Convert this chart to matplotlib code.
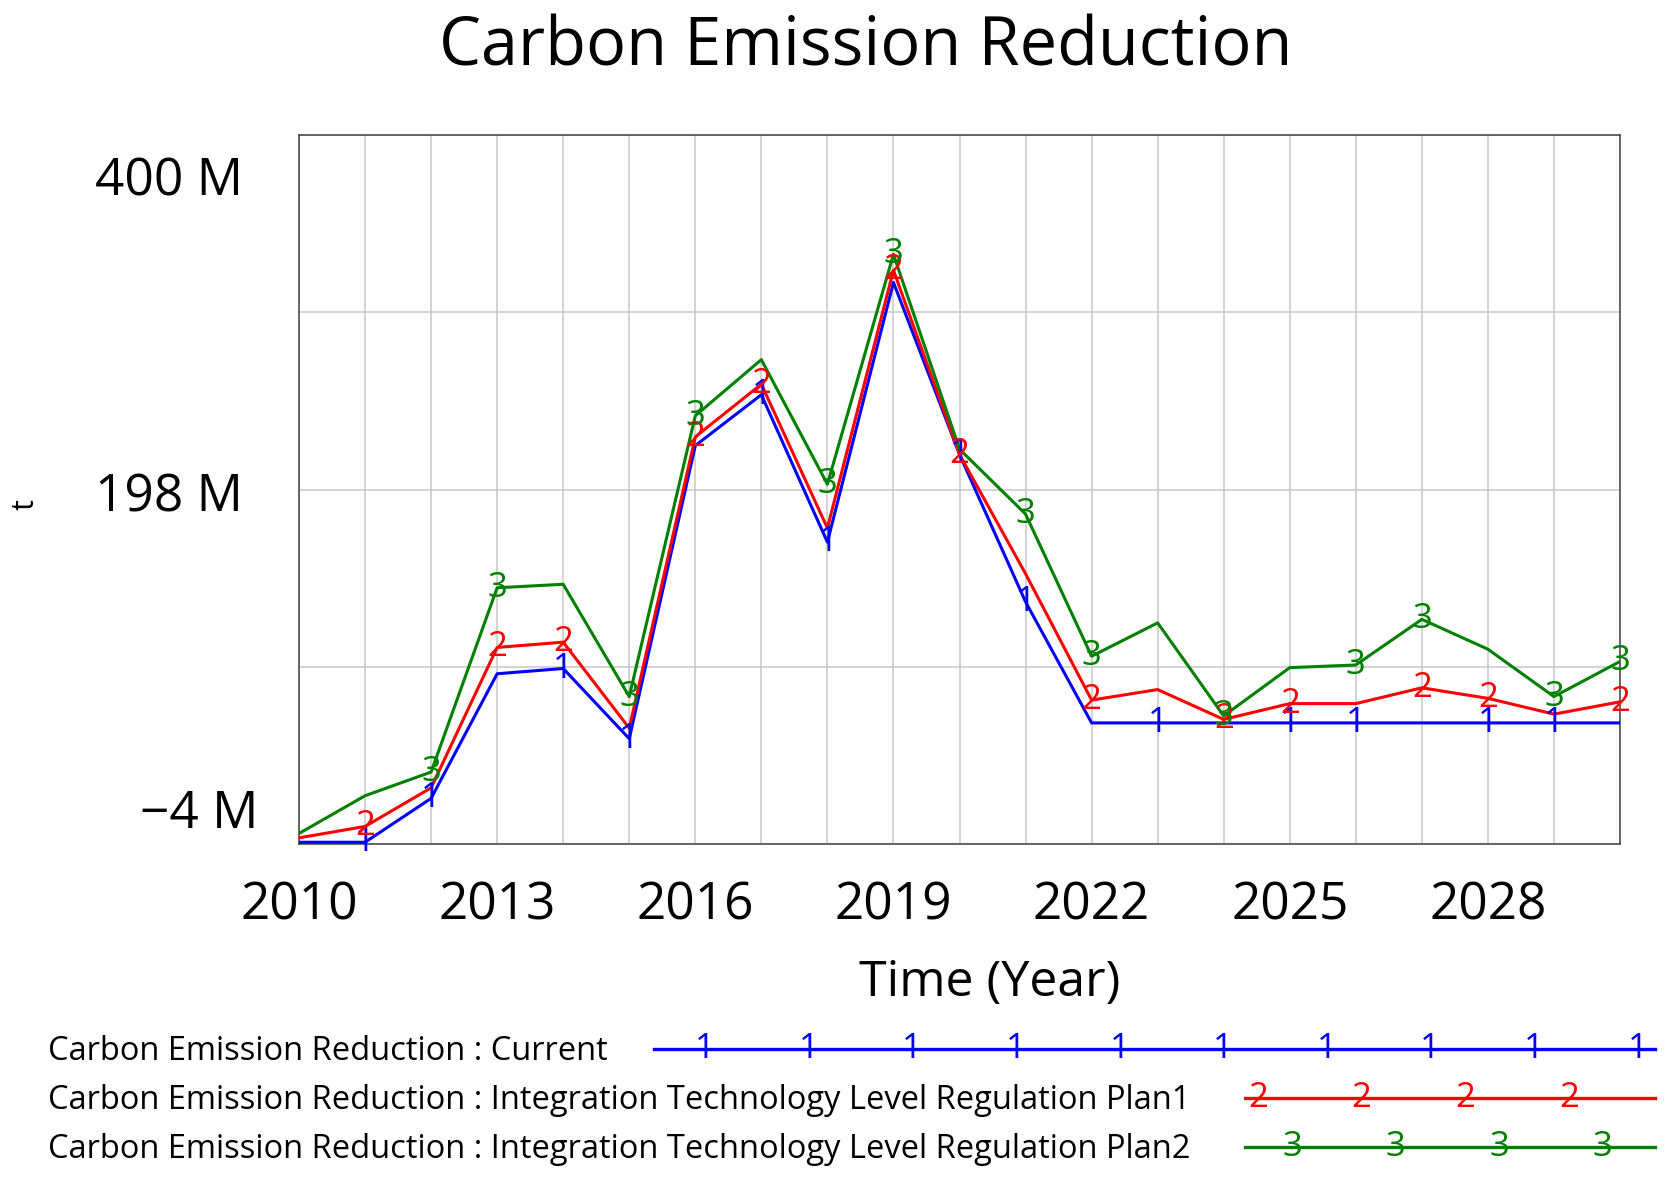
import matplotlib
matplotlib.use("Agg")
import matplotlib.pyplot as plt

plt.rcParams['font.family'] = ['Open Sans', 'DejaVu Sans']

# data (million t)
years = list(range(2010, 2031))
current = [-3, -3, 22, 93, 96, 56, 223, 252, 168, 316, 218, 134, 65,
           65, 65, 65, 65, 65, 65, 65, 65]
plan1 = [-0.5, 6, 28, 108, 111, 62, 228, 258, 176, 323, 218, 150, 78,
         84, 67, 76, 76, 85, 79, 70, 77]
plan2 = [2, 23.5, 37, 142, 144, 80, 240, 272, 201, 332, 221, 184, 103,
         122, 69, 96.5, 98, 124, 107, 80, 100]

current_marks = [2011, 2012, 2014, 2015, 2017, 2018, 2020, 2021, 2023, 2025, 2026, 2028, 2029]
plan1_marks = [2011, 2013, 2014, 2016, 2017, 2019, 2020, 2022, 2024, 2025, 2027, 2028, 2030]
plan2_marks = [2012, 2013, 2015, 2016, 2018, 2019, 2021, 2022, 2024, 2026, 2027, 2029, 2030]

labels = ['Carbon Emission Reduction : Current',
          'Carbon Emission Reduction : Integration Technology Level Regulation Plan1',
          'Carbon Emission Reduction : Integration Technology Level Regulation Plan2']

W, H = 1666, 1190
fig = plt.figure(figsize=(W / 100, H / 100), dpi=100)

# overlay in pixel coordinates for the free texts and legend
lax = fig.add_axes([0, 0, 1, 1])
lax.set_xlim(0, W)
lax.set_ylim(H, 0)
lax.axis('off')

ax = fig.add_axes([299 / W, 1 - 844 / H, 1321 / W, 709 / H])

series = [(current, current_marks, 'blue', '1'),
          (plan1, plan1_marks, 'red', '2'),
          (plan2, plan2_marks, 'green', '3')]
for vals, marks, col, tag in series:
    ax.plot(years, vals, color=col, lw=2.2, zorder=3)
    for yr in marks:
        ax.text(yr, vals[years.index(yr)], tag, color=col, fontsize=25,
                ha='center', va='center', clip_on=False, zorder=4)

ax.set_xlim(2010, 2030)
ax.set_ylim(-4, 400)
ax.set_xticks(range(2010, 2031, 3))
ax.set_xticks(years, minor=True)
ax.set_yticks([-4, 97, 198, 299, 400])
ax.set_yticklabels([])
ax.grid(True, which='both', color='#c8c8c8', lw=1.1)
ax.set_axisbelow(True)
ax.tick_params(which='both', length=0)
ax.tick_params(axis='x', labelsize=37, pad=54)
for t in ax.get_xticklabels():
    t.set_va('baseline')
for s in ax.spines.values():
    s.set_color('#404040')
    s.set_linewidth(1.1)

# y tick labels, placed like the original
for val, dx, dy in [(400, -56, -61), (198, -56, -22), (-4, -41, 16)]:
    ax.annotate(f'{val} M'.replace('-', '\u2212'), xy=(0, val),
                xycoords=('axes fraction', 'data'),
                xytext=(dx, dy), textcoords='offset pixels',
                ha='right', va='baseline', fontsize=37)

lax.text(866, 66, 'Carbon Emission Reduction', fontsize=48, ha='center', va='baseline')
lax.text(990, 996, 'Time (Year)', fontsize=36, ha='center', va='baseline')
lax.text(26, 505, 't', fontsize=22, rotation=90, ha='center', va='center')

# legend
leg_y = [1060, 1109, 1158]
line_x0 = [654, 1245, 1245]
mark_x0 = [705, 1258, 1292]
n_marks = [10, 4, 4]
for i, (vals, marks, col, tag) in enumerate(series):
    y = leg_y[i]
    lax.text(48, y, labels[i], fontsize=23.5, ha='left', va='baseline')
    lax.plot([line_x0[i], 1655], [y - 11, y - 11], color=col, lw=2.4)
    for k in range(n_marks[i]):
        lax.text(mark_x0[i] + k * 103.6, y - 11, tag, color=col, fontsize=25,
                 ha='center', va='center')

fig.savefig('out.png', dpi=100)
